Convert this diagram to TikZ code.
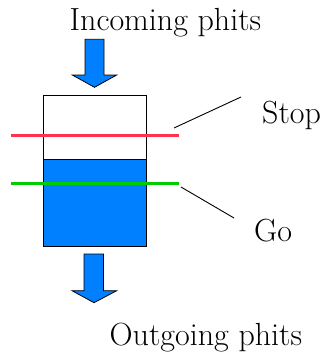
\documentclass[tikz,border=0pt]{standalone}
\begin{document}
\begin{tikzpicture}[x=1pt,y=-1pt,
  lbl/.style={anchor=base west,inner sep=0pt,font=\fontsize{32}{32}\selectfont},
  flowarrow/.style={draw=black,line width=0.8pt,fill=phitblue,line join=miter},
  level/.style={line width=3pt},
  leader/.style={draw=black,line width=0.9pt}]
\definecolor{phitblue}{RGB}{0,128,255}
\definecolor{stopred}{RGB}{255,50,80}
\definecolor{gogreen}{RGB}{0,204,0}
\useasboundingbox (0,0) rectangle (323,356);

% labels
\node[lbl] (incoming) at (69.5,30) {Incoming phits};
\node[lbl] (stop) at (262,123.3) {Stop};
\node[lbl] (go) at (254,241.5) {Go};
\node[lbl] (outgoing) at (109.5,345) {Outgoing phits};

% incoming arrow
\draw[flowarrow] (85,39.3) -- (104,39.3) -- (104,75) -- (116.7,75) -- (94.5,87.3)
  -- (72.3,75) -- (85,75) -- cycle;

% buffer: filled part and outline
\fill[phitblue] (43.3,159.3) rectangle (146.7,246.7);
\draw[line width=0.9pt] (43.3,159.3) -- (146.7,159.3);
\draw[line width=1.2pt] (43.3,95.7) rectangle (146.7,246.7);

% thresholds
\draw[level,stopred] (11,135) -- (179,135);
\draw[level,gogreen] (11,183.3) -- (179,183.3);

% leader lines to the threshold labels
\coordinate (stopA) at (174,128);
\coordinate (stopB) at (241,97);
\coordinate (goA) at (181,187);
\coordinate (goB) at (234,218);
\draw[leader] (stopA) -- (stopB);
\draw[leader] (goA) -- (goB);

% outgoing arrow
\draw[flowarrow] (84,254) -- (103.5,254) -- (103.5,290.7) -- (116.7,290.7) -- (94,302.7)
  -- (72,290.7) -- (84,290.7) -- cycle;
\end{tikzpicture}
\end{document}
